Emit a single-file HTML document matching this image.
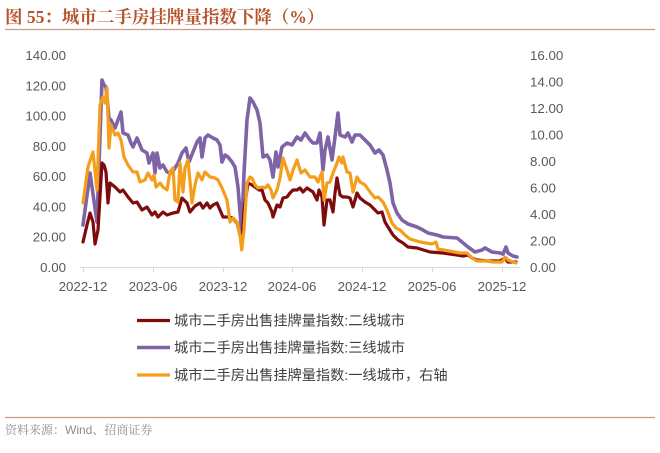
<!DOCTYPE html>
<html>
<head>
<meta charset="utf-8">
<style>
html,body{margin:0;padding:0;background:#fff;}
body{width:660px;height:453px;position:relative;overflow:hidden;font-family:"Liberation Sans","Noto Sans CJK SC",sans-serif;}
svg{position:absolute;left:0;top:0;}
</style>
</head>
<body>
<svg width="660" height="453" viewBox="0 0 660 453" xmlns="http://www.w3.org/2000/svg">
  <!-- title -->
  <text x="5" y="23" font-family="'Liberation Serif','Noto Serif CJK SC',serif" font-size="17.5" font-weight="bold" fill="#b5532b">图 55：城市二手房挂牌量指数下降（%）</text>
  <line x1="5" y1="29.5" x2="655" y2="29.5" stroke="#c99a86" stroke-width="1.2"/>

  <!-- left axis labels -->
  <g font-family="'Liberation Sans',sans-serif" font-size="13.3" fill="#595959" text-anchor="end">
    <text x="66" y="60">140.00</text>
    <text x="66" y="90.3">120.00</text>
    <text x="66" y="120.6">100.00</text>
    <text x="66" y="150.9">80.00</text>
    <text x="66" y="181.1">60.00</text>
    <text x="66" y="211.4">40.00</text>
    <text x="66" y="241.7">20.00</text>
    <text x="66" y="272">0.00</text>
  </g>
  <!-- right axis labels -->
  <g font-family="'Liberation Sans',sans-serif" font-size="13.3" fill="#595959" text-anchor="start">
    <text x="530" y="60">16.00</text>
    <text x="530" y="86.5">14.00</text>
    <text x="530" y="113">12.00</text>
    <text x="530" y="139.5">10.00</text>
    <text x="530" y="166">8.00</text>
    <text x="530" y="192.5">6.00</text>
    <text x="530" y="219">4.00</text>
    <text x="530" y="245.5">2.00</text>
    <text x="530" y="272">0.00</text>
  </g>

  <!-- x axis -->
  <line x1="80" y1="267.5" x2="520" y2="267.5" stroke="#d9d9d9" stroke-width="1"/>
  <g stroke="#d9d9d9" stroke-width="1">
    <line x1="83.5" y1="267" x2="83.5" y2="272"/>
    <line x1="153.5" y1="267" x2="153.5" y2="272"/>
    <line x1="223.5" y1="267" x2="223.5" y2="272"/>
    <line x1="292.5" y1="267" x2="292.5" y2="272"/>
    <line x1="362.5" y1="267" x2="362.5" y2="272"/>
    <line x1="432.5" y1="267" x2="432.5" y2="272"/>
    <line x1="502.5" y1="267" x2="502.5" y2="272"/>
  </g>
  <g font-family="'Liberation Sans',sans-serif" font-size="13.3" fill="#595959" text-anchor="middle">
    <text x="83" y="291">2022-12</text>
    <text x="153" y="291">2023-06</text>
    <text x="223" y="291">2023-12</text>
    <text x="292" y="291">2024-06</text>
    <text x="362" y="291">2024-12</text>
    <text x="432" y="291">2025-06</text>
    <text x="502" y="291">2025-12</text>
  </g>

  <!-- series -->
  <g fill="none" stroke-linejoin="round" stroke-linecap="round">
    <polyline stroke="#7e63a7" stroke-width="3.6" points="83,225 90,173 97,222 102,80 104,85 106,87 109,118 111,120 115,128 121,112 123,133 128,135 131,143 133,147 137,138 142,150 147,153 149,163 153,153 155,173 157,153 160,168 163,165 167,172 172,173 175,168 178,163 182,153 186,148 189,162 193,152 197,142 200,138 202,157 205,138 208,135 213,138 217,140 220,145 222,162 225,155 228,157 232,162 235,167 238,187 241.7,233 244,173 247,120 250,98 253,102 257,110 260,123 263,157 267,155 270,160 273,177 276,152 278,167 282,147 287,143 292,145 297,137 301,140 305,133 310,140 313,143 317,143 320,133 323,170 325,150 328,137 332,160 335,137 338,113 340,135 345,137 348,133 352,142 355,135 360,135 365,140 370,145 375,153 379,150 383,155 387,170 390,183 393,203 397,213 402,220 408,224 417,227 423,230 428,233 437,235 443,237 457,238 462,242 468,247 475,252 482,250 485,248 492,252 500,253 503,254 506,247 508,253 513,256 517,257"/>
    <polyline stroke="#7f0c0c" stroke-width="3.2" points="83,242 87,225 90,213 93,222 95,244 98,230 102,163 104,165 106,172 108,203 110,183 115,187 120,192 123,190 128,197 133,203 137,202 142,210 147,207 152,215 155,212 158,217 163,212 167,215 173,213 178,212 182,198 187,203 190,212 195,206 200,203 203,208 207,203 210,208 213,205 217,203 220,210 223,217 228,217 233,218 237,223 240,235 242,245 244,210 248,183 252,185 255,187 259,190 262,190 265,200 268,203 272,212 273,217 277,205 280,207 283,198 287,197 290,193 293,190 297,190 300,188 303,192 307,188 310,190 313,192 317,200 319,190 322,197 324,225 327,200 330,200 333,212 335,193 337,178 340,195 343,197 347,197 350,198 353,207 357,193 360,198 365,202 370,205 375,210 378,213 382,212 385,222 388,227 393,235 398,240 403,243 408,247 417,248 430,252 443,253 457,255 463,256 468,255 472,258 477,260 487,261 500,261 505,258 508,262 516,262"/>
    <polyline stroke="#f59e1b" stroke-width="3.2" points="83,203 88,167 93,152 97,190 100,105 103,97 105,103 107,88 109,148 111,125 115,135 118,133 121,140 124,157 128,165 133,172 137,172 140,182 145,180 148,173 152,180 154,175 156,187 160,183 163,187 167,190 170,172 173,168 175,200 178,202 180,163 183,192 185,168 188,160 192,203 195,185 198,173 202,180 205,172 210,177 215,178 218,180 222,188 227,200 230,222 233,218 237,222 240,235 241.7,250 244,230 247,183 250,177 252,178 255,185 258,188 262,187 265,188 268,185 271,190 273,198 277,190 280,178 283,158 287,170 290,180 293,170 297,160 301,173 305,170 310,177 315,177 318,182 322,172 324,200 327,183 330,182 333,173 337,163 339,157 342,163 343,157 347,172 350,173 353,192 357,177 360,182 365,185 370,192 375,198 378,197 383,202 387,210 392,223 396,228 400,230 405,235 410,239 420,242 432,244 436,242 438,249 460,253 467,253 472,258 477,261 487,261 493,262 502,262 505,257 508,260 516,263"/>
  </g>

  <!-- legend -->
  <g stroke-width="3.2">
    <line x1="137" y1="320.5" x2="170" y2="320.5" stroke="#7f0c0c"/>
    <line x1="137" y1="347.5" x2="170" y2="347.5" stroke="#7e63a7" stroke-width="3.6"/>
    <line x1="137" y1="375" x2="170" y2="375" stroke="#f59e1b"/>
  </g>
  <g font-family="'Liberation Sans','Noto Sans CJK SC',sans-serif" font-size="14.2" fill="#404040">
    <text x="174" y="325.5">城市二手房出售挂牌量指数:二线城市</text>
    <text x="174" y="352.5">城市二手房出售挂牌量指数:三线城市</text>
    <text x="174" y="380">城市二手房出售挂牌量指数:一线城市，右轴</text>
  </g>

  <!-- footer -->
  <line x1="5" y1="417.5" x2="655" y2="417.5" stroke="#c99a86" stroke-width="1.2"/>
  <text x="5" y="434" font-family="'Liberation Sans','Noto Serif CJK SC',serif" font-size="12" fill="#8c8c8c">资料来源：Wind、招商证券</text>
</svg>
</body>
</html>
